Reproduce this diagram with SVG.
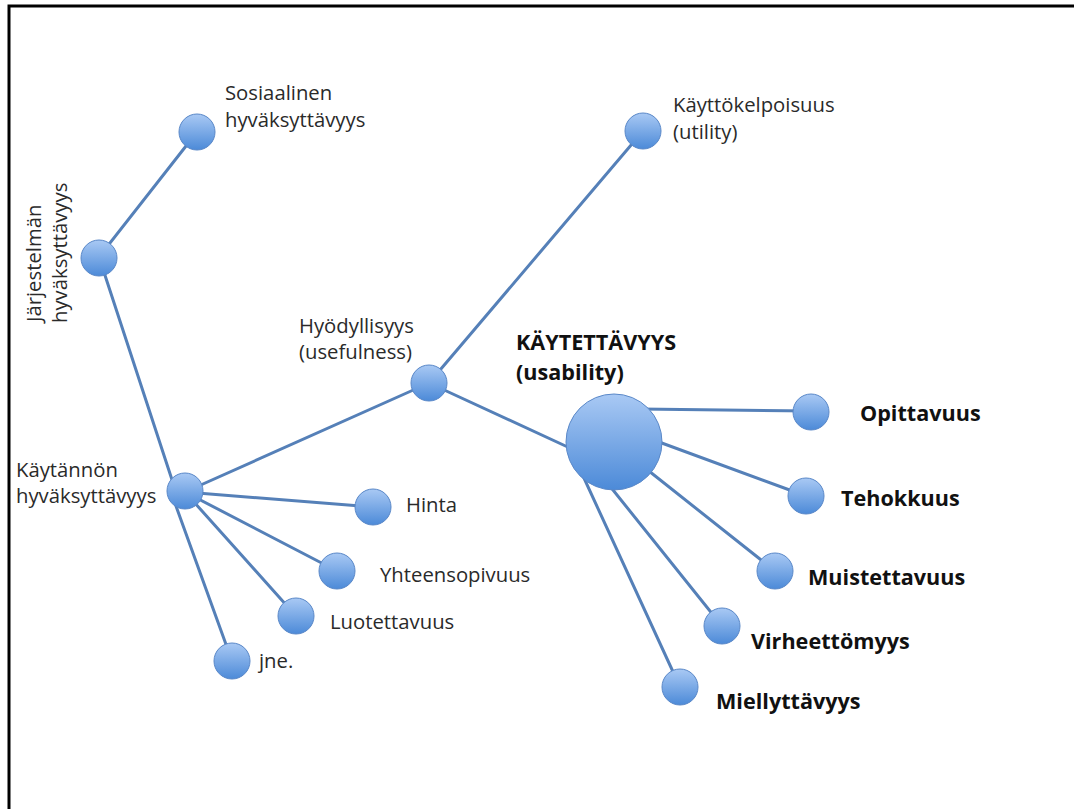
<svg xmlns="http://www.w3.org/2000/svg" width="1074" height="809" viewBox="0 0 1074 809">
<style>
.lbl{font-family:"Open Sans","Liberation Sans",sans-serif;font-size:20.3px;fill:#2a2a2a}
.bold{font-family:"Open Sans","Liberation Sans",sans-serif;font-size:21.6px;font-weight:bold;fill:#111}
.edge{stroke:#5580b8;stroke-width:3;fill:none;stroke-linecap:round}
.node{fill:url(#g);stroke:#5a88c8;stroke-width:1}
</style>
<defs>
<linearGradient id="g" x1="0" y1="0" x2="0" y2="1">
<stop offset="0" stop-color="#a9c9f4"/>
<stop offset="1" stop-color="#4c8ad8"/>
</linearGradient>
</defs>
<rect width="1074" height="809" fill="#fff"/>
<path d="M1074,6 H9 V809" fill="none" stroke="#000" stroke-width="3"/>
<g id="connectors">
<line class="edge" x1="99" y1="257" x2="197" y2="132"/>
<line class="edge" x1="99" y1="257" x2="176" y2="492"/>
<line class="edge" x1="185" y1="492" x2="429" y2="383"/>
<line class="edge" x1="429" y1="383" x2="643" y2="131"/>
<line class="edge" x1="429" y1="383" x2="585" y2="455"/>
<line class="edge" x1="185" y1="492" x2="373" y2="507"/>
<line class="edge" x1="185" y1="492" x2="337" y2="571"/>
<line class="edge" x1="185" y1="492" x2="296" y2="616"/>
<line class="edge" x1="172" y1="495" x2="232" y2="661"/>
<line class="edge" x1="640" y1="409" x2="811" y2="411"/>
<line class="edge" x1="640" y1="435" x2="806" y2="496"/>
<line class="edge" x1="630" y1="456" x2="775" y2="571"/>
<line class="edge" x1="605" y1="480" x2="722" y2="626"/>
<line class="edge" x1="578" y1="465" x2="680" y2="687"/>
</g>
<g id="n-sosiaalinen"><circle class="node" cx="197" cy="132" r="18"/><text class="lbl" x="225" y="100">Sosiaalinen</text><text class="lbl" x="225" y="127">hyväksyttävyys</text></g>
<g id="n-jarjestelman"><circle class="node" cx="99" cy="258" r="18"/><text class="lbl" transform="translate(41,322) rotate(-90)">Järjestelmän</text><text class="lbl" transform="translate(67,323) rotate(-90)">hyväksyttävyys</text></g>
<g id="n-kayttokelpoisuus"><circle class="node" cx="643" cy="131" r="18"/><text class="lbl" x="673" y="112">Käyttökelpoisuus</text><text class="lbl" x="673" y="139">(utility)</text></g>
<g id="n-hyodyllisyys"><circle class="node" cx="429" cy="383" r="18"/><text class="lbl" x="299" y="333">Hyödyllisyys</text><text class="lbl" x="299" y="359">(usefulness)</text></g>
<g id="n-kaytettavyys"><circle class="node" cx="614" cy="442" r="48"/><text class="bold" x="516" y="350">KÄYTETTÄVYYS</text><text class="bold" x="516" y="380">(usability)</text></g>
<g id="n-kaytannon"><circle class="node" cx="185" cy="491" r="18"/><text class="lbl" x="16" y="477">Käytännön</text><text class="lbl" x="16" y="503">hyväksyttävyys</text></g>
<g id="n-hinta"><circle class="node" cx="373" cy="507" r="18"/><text class="lbl" x="406" y="512">Hinta</text></g>
<g id="n-yhteensopivuus"><circle class="node" cx="337" cy="571" r="18"/><text class="lbl" x="380" y="582">Yhteensopivuus</text></g>
<g id="n-luotettavuus"><circle class="node" cx="296" cy="616" r="18"/><text class="lbl" x="330" y="629">Luotettavuus</text></g>
<g id="n-jne"><circle class="node" cx="232" cy="661" r="18"/><text class="lbl" x="259" y="668">jne.</text></g>
<g id="n-opittavuus"><circle class="node" cx="811" cy="412" r="18"/><text class="bold" x="860" y="421">Opittavuus</text></g>
<g id="n-tehokkuus"><circle class="node" cx="806" cy="496" r="18"/><text class="bold" x="841" y="506">Tehokkuus</text></g>
<g id="n-muistettavuus"><circle class="node" cx="775" cy="571" r="18"/><text class="bold" x="808" y="585">Muistettavuus</text></g>
<g id="n-virheettomyys"><circle class="node" cx="722" cy="626" r="18"/><text class="bold" x="751" y="649">Virheettömyys</text></g>
<g id="n-miellyttavyys"><circle class="node" cx="680" cy="687" r="18"/><text class="bold" x="716" y="709">Miellyttävyys</text></g>
</svg>
